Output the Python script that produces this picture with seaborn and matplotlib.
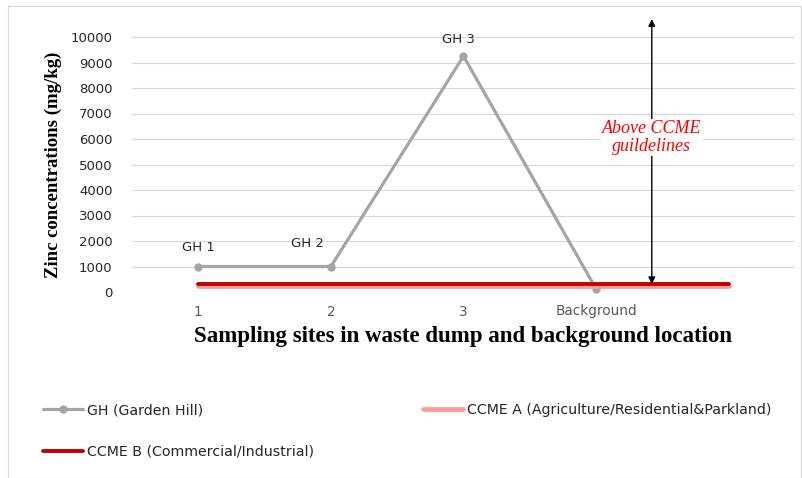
import matplotlib
matplotlib.use("Agg")
import matplotlib.pyplot as plt
import seaborn as sns
import pandas as pd
from matplotlib.patches import Rectangle

# ---- data ----
sites = ["1", "2", "3", "Background", ""]
gh_values = [1000, 1000, 9250, 120]
gh_labels = ["GH 1", "GH 2", "GH 3", ""]
ccme_a = [250, 250, 250, 250, 250]
ccme_b = [330, 330, 330, 330, 330]
yticks = list(range(0, 10001, 1000))

sns.set_theme(style="white")
plt.rcParams["font.family"] = ["DejaVu Sans"]

fig = plt.figure(figsize=(8.03, 4.78), dpi=100)
ax = fig.add_axes([132 / 803, 1 - 292 / 478, 663 / 803, 255 / 478])

gh_df = pd.DataFrame({"x": range(len(gh_values)), "y": gh_values})
a_df = pd.DataFrame({"x": range(len(ccme_a)), "y": ccme_a})
b_df = pd.DataFrame({"x": range(len(ccme_b)), "y": ccme_b})

sns.lineplot(data=a_df, x="x", y="y", ax=ax, color="#ff9999", linewidth=3.4,
             label="CCME A (Agriculture/Residential&Parkland)", zorder=3)
sns.lineplot(data=b_df, x="x", y="y", ax=ax, color="#c00000", linewidth=2.8,
             label="CCME B (Commercial/Industrial)", zorder=4)
sns.lineplot(data=gh_df, x="x", y="y", ax=ax, color="#a5a5a5", linewidth=2.3,
             marker="o", markersize=6, markeredgewidth=0, sort=False,
             label="GH (Garden Hill)", zorder=2)
for ln in ax.lines:
    ln.set_clip_on(False)

# data labels
offsets = [(0, 9), (-17, 12), (-4, 7)]
for i, lab in enumerate(gh_labels):
    if lab:
        ax.annotate(lab, (i, gh_values[i]), xytext=offsets[i], textcoords="offset points",
                    ha="center", va="bottom", fontsize=9.5, color="#262626")

# arrow + note
ax.annotate("", xy=(3.42, 10700), xytext=(3.42, 310),
            arrowprops=dict(arrowstyle="<|-|>", color="black", lw=1.0,
                            mutation_scale=10, shrinkA=0, shrinkB=0),
            annotation_clip=False, zorder=5)
ax.text(3.42, 6050, "Above CCME\nguildelines", ha="center", va="center",
        fontsize=13, style="italic", color="#ff0000", family="Liberation Serif",
        bbox=dict(facecolor="white", edgecolor="none", pad=1.0), zorder=6,
        linespacing=1.05)

ax.set_xlim(-0.5, 4.5)
ax.set_ylim(0, 10000)
ax.set_xticks(range(len(sites)))
ax.set_xticklabels(sites)
ax.set_yticks(yticks)
ax.set_yticklabels([str(v) for v in yticks])
ax.tick_params(axis="y", length=0, pad=14, labelsize=9.5, labelcolor="#262626")
ax.tick_params(axis="x", length=0, pad=9, labelsize=9.8, labelcolor="#595959")
ax.grid(axis="y", color="#d9d9d9", linewidth=0.8)
ax.set_axisbelow(True)
for s in ax.spines.values():
    s.set_visible(False)

ax.set_ylabel("Zinc concentrations (mg/kg)", family="Liberation Serif",
              fontweight="bold", fontsize=13.5, color="black")
ax.yaxis.set_label_coords(-0.106, 0.5)
ax.set_xlabel("Sampling sites in waste dump and background location", family="Liberation Serif",
              fontweight="bold", fontsize=16.5, color="black")
ax.xaxis.set_label_coords(0.5, -0.133)

# legend
handles, labels = ax.get_legend_handles_labels()
order = [2, 1, 0]
ax.legend_.remove()
fig.legend([handles[i] for i in order], [labels[i] for i in order],
           loc="upper left", bbox_to_anchor=(43 / 803, 1 - 403 / 478), ncol=2,
           frameon=False, handlelength=2.8, handletextpad=0.3,
           columnspacing=7.7, labelspacing=1.95, borderpad=0, borderaxespad=0,
           prop={"family": "DejaVu Sans", "size": 10.2}, labelcolor="#262626")

# figure border
fig.patches.append(Rectangle((8 / 803, 0), 1 - 8 / 803 - 2 / 803, 1 - 6 / 478,
                             transform=fig.transFigure, fill=False,
                             edgecolor="#d9d9d9", linewidth=0.8))

fig.savefig("out.png", dpi=100)
